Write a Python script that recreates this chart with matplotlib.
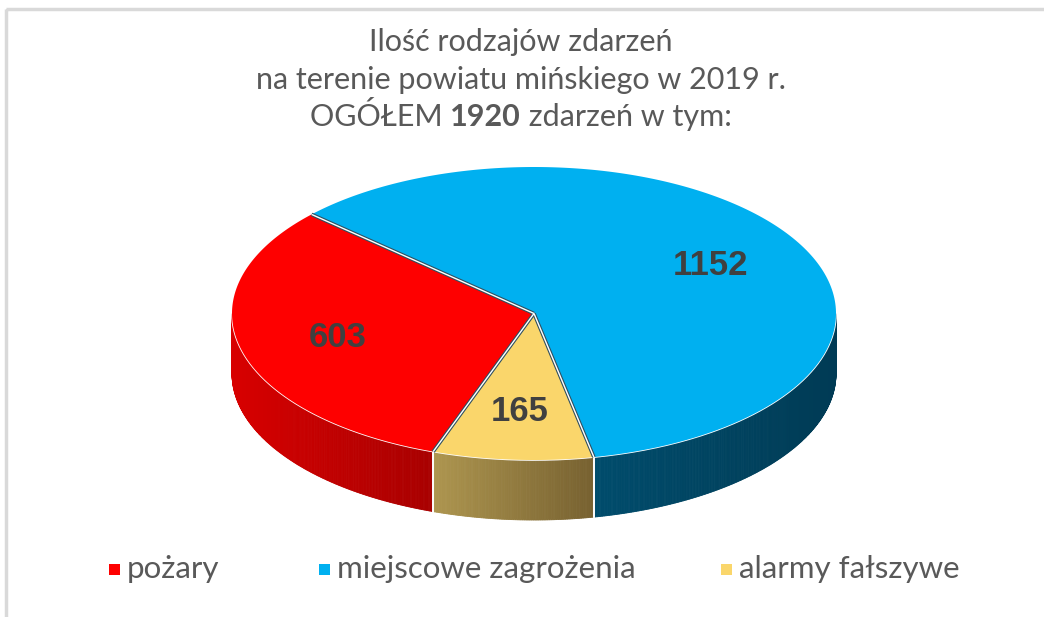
import numpy as np
import matplotlib
matplotlib.use("Agg")
import matplotlib.pyplot as plt
from matplotlib.patches import Polygon, Rectangle
from matplotlib import font_manager as fm
from matplotlib.colors import to_rgb

# ---------------- data ----------------
categories = ["pożary", "miejscowe zagrożenia", "alarmy fałszywe"]
values = [603, 1152, 165]
total = 1920
title_lines = ["Ilość rodzajów zdarzeń", "na terenie powiatu mińskiego w 2019 r."]
title_line3 = ["OGÓŁEM ", "1920", " zdarzeń w tym:"]

top_colors = ["#FE0000", "#00B0F0", "#FAD66B"]
side_light = ["#D80000", "#004C6C", "#AE964F"]
side_dark = ["#A80000", "#003B55", "#776130"]

# ---------------- layout ----------------
W, H = 1044, 617
CX, CY = 534, 313.5
A, B = 302, 146.5
DEPTH = 60
START = 250.5  # math degrees, slices go clockwise

names = {f.name for f in fm.fontManager.ttflist}
title_font = "Lato" if "Lato" in names else "DejaVu Sans"
label_font = "Liberation Sans" if "Liberation Sans" in names else "DejaVu Sans"
text_gray = "#595959"
TFS = 22

fig = plt.figure(figsize=(W / 100, H / 100), dpi=100)
ax = fig.add_axes([0, 0, 1, 1])
ax.set_xlim(0, W)
ax.set_ylim(H, 0)
ax.axis("off")

# chart frame
ax.add_patch(Rectangle((6, 9), W + 20, H + 20, fill=False, edgecolor="#D9D9D9", lw=2.5, zorder=0))


def pt(theta_deg, dy=0.0):
    t = np.radians(theta_deg)
    return CX + A * np.cos(t), CY - B * np.sin(t) + dy


# slice angles
angles = []
cur = START
for v in values:
    sweep = 360.0 * v / total
    angles.append((cur - sweep, cur))  # (lo, hi)
    cur -= sweep

# ---- side walls (front half: 180..360 deg) ----
for i, (lo, hi) in enumerate(angles):
    for shift in (-360, 0, 360):
        s = max(lo + shift, 180)
        e = min(hi + shift, 360)
        if e <= s:
            continue
        ths = np.linspace(s, e, max(2, int((e - s) * 3)))
        xs = [pt(t)[0] for t in ths]
        xmin, xmax = min(xs), max(xs)
        c1, c2 = np.array(to_rgb(side_light[i])), np.array(to_rgb(side_dark[i]))
        for k in range(len(ths) - 1):
            t0, t1 = ths[k], ths[k + 1]
            p0, p1 = pt(t0), pt(t1)
            q0, q1 = pt(t0, DEPTH), pt(t1, DEPTH)
            xm = 0.5 * (p0[0] + p1[0])
            f = (xm - xmin) / max(xmax - xmin, 1)
            col = c1 + (c2 - c1) * f
            ax.add_patch(Polygon([p0, p1, q1, q0], closed=True, facecolor=col,
                                 edgecolor=col, lw=0.6, zorder=2))
        # white separator lines at wall ends
        for t in (s, e):
            if 180 < t < 360:
                p, q = pt(t), pt(t, DEPTH)
                ax.plot([p[0], q[0]], [p[1], q[1]], color="white", lw=1.2, zorder=3)

# front rim edge line
ths = np.linspace(180, 360, 300)
ax.plot([pt(t)[0] for t in ths], [pt(t)[1] for t in ths], color="white", lw=1.2, zorder=3)

# ---- top faces ----
for i, (lo, hi) in enumerate(angles):
    ths = np.linspace(lo, hi, 200)
    poly = [(CX, CY)] + [pt(t) for t in ths]
    ax.add_patch(Polygon(poly, closed=True, facecolor=top_colors[i],
                         edgecolor="none", zorder=4))
# slice borders on top
for i, (lo, hi) in enumerate(angles):
    p = pt(hi)
    ax.plot([CX, p[0]], [CY, p[1]], color="#2F4F5F", lw=2.6, zorder=5, solid_capstyle="butt")
    ax.plot([CX, p[0]], [CY, p[1]], color="white", lw=1.0, zorder=6, solid_capstyle="butt")

# ---- data labels ----
for i, (lo, hi) in enumerate(angles):
    mid = 0.5 * (lo + hi)
    r = 0.67
    x = CX + r * A * np.cos(np.radians(mid))
    y = CY - r * B * np.sin(np.radians(mid))
    ax.text(x, y, str(values[i]), ha="center", va="center", fontsize=25,
            fontweight="bold", family=label_font, color="#404040", zorder=8)

# ---- title ----
TX = 521
for j, line in enumerate(title_lines):
    ax.text(TX, 42 + 37.5 * j, line, ha="center", va="center", fontsize=TFS,
            family=title_font, color=text_gray)

fig.canvas.draw()
r = fig.canvas.get_renderer()
pieces = []
for k, s in enumerate(title_line3):
    t = ax.text(0, 117, s, ha="left", va="center", fontsize=TFS, family=title_font,
                fontweight="bold" if k == 1 else "normal", color=text_gray)
    pieces.append(t)
widths = [t.get_window_extent(renderer=r).width for t in pieces]
tot = sum(widths)
x0 = TX - tot / 2
for t, w in zip(pieces, widths):
    t.set_x(x0)
    x0 += w

# ---- legend ----
leg_x = [115, 325, 727]
for i, cat in enumerate(categories):
    ax.add_patch(Rectangle((leg_x[i] - 6, 564), 11, 11, facecolor=top_colors[i],
                           edgecolor="none", zorder=5))
    ax.text(leg_x[i] + 12, 569, cat, ha="left", va="center", fontsize=TFS + 0.5,
            family=title_font, color=text_gray)

fig.savefig("out.png", dpi=100)
